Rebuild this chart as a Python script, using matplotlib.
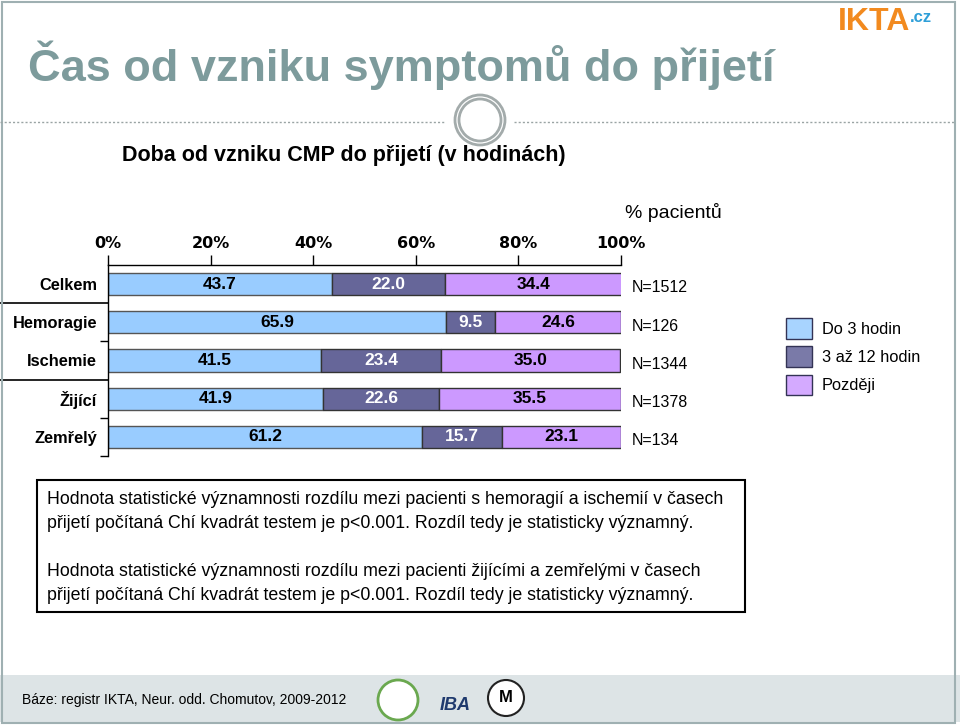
import matplotlib
matplotlib.use('Agg')
import matplotlib.pyplot as plt
from matplotlib.patches import Rectangle, Circle, Patch
from matplotlib.lines import Line2D

plt.rcParams['font.family'] = ['Liberation Sans', 'DejaVu Sans']

# data
kategorie = ['Celkem', 'Hemoragie', 'Ischemie', 'Žijící', 'Zemřelý']
do3 = [43.7, 65.9, 41.5, 41.9, 61.2]
od3do12 = [22.0, 9.5, 23.4, 22.6, 15.7]
pozdeji = [34.4, 24.6, 35.0, 35.5, 23.1]
pocty = ['N=1512', 'N=126', 'N=1344', 'N=1378', 'N=134']
serie = ['Do 3 hodin', '3 až 12 hodin', 'Později']
barvy = ['#99ccff', '#666699', '#cc99ff']
xticks = [0, 20, 40, 60, 80, 100]

W, H = 960, 726
fig = plt.figure(figsize=(W / 100, H / 100), dpi=100)

def fx(px):
    return px / W

def fy(py):
    return 1 - py / H

def kruh(px, py, r, **kw):
    # circle in pixel units, so it stays round
    fig.add_artist(Circle((px / 100, (H - py) / 100), r / 100, transform=fig.dpi_scale_trans, **kw))

# slide decoration
fig.patches.append(Rectangle((fx(0), fy(722)), 1, fy(675) - fy(722), transform=fig.transFigure,
                             facecolor='#dde4e6', edgecolor='none', zorder=0))
fig.patches.append(Rectangle((fx(2), fy(723)), fx(953), fy(2) - fy(723), transform=fig.transFigure,
                             facecolor='none', edgecolor='#9fb0b2', lw=1.5, zorder=1))
fig.add_artist(Line2D([fx(0), fx(445)], [fy(122), fy(122)], transform=fig.transFigure,
                      color='#9aa4a4', lw=1, ls=(0, (1.5, 1.5))))
fig.add_artist(Line2D([fx(514), fx(955)], [fy(122), fy(122)], transform=fig.transFigure,
                      color='#9aa4a4', lw=1, ls=(0, (1.5, 1.5))))
for r in (25, 21):
    kruh(480, 120, r, facecolor='none', edgecolor='#a3abab', lw=2)

fig.text(fx(28), fy(65), 'Čas od vzniku symptomů do přijetí', fontsize=32.5, fontweight='bold',
         color='#7d9b9c', va='center', ha='left')
fig.text(fx(122), fy(156), 'Doba od vzniku CMP do přijetí (v hodinách)', fontsize=15.5,
         fontweight='bold', va='center', ha='left')
fig.text(fx(838), fy(22), 'IKTA', fontsize=23, fontweight='bold', color='#f28a1f', va='center')
fig.text(fx(910), fy(17), '.cz', fontsize=12, fontweight='bold', color='#2f9fd8', va='center')
fig.text(fx(625), fy(212), '% pacientů', fontsize=14, va='center')

# chart
ax = fig.add_axes([fx(108), fy(456), fx(513), fy(265) - fy(456)])
y = list(range(len(kategorie)))
left2 = [a for a in do3]
left3 = [a + b for a, b in zip(do3, od3do12)]
ax.barh(y, do3, height=0.58, color=barvy[0], edgecolor='#555555', lw=1)
ax.barh(y, od3do12, left=left2, height=0.58, color=barvy[1], edgecolor='#333333', lw=1)
ax.barh(y, pozdeji, left=left3, height=0.58, color=barvy[2], edgecolor='#333333', lw=1)

for i in y:
    ax.text(do3[i] / 2, i, f'{do3[i]:.1f}', ha='center', va='center', fontsize=12.5, fontweight='bold')
    ax.text(left2[i] + od3do12[i] / 2, i, f'{od3do12[i]:.1f}', ha='center', va='center',
            fontsize=12.5, fontweight='bold', color='white')
    ax.text(left3[i] + pozdeji[i] / 2, i, f'{pozdeji[i]:.1f}', ha='center', va='center',
            fontsize=12.5, fontweight='bold')
    ax.annotate(pocty[i], (1, i + 0.1), xycoords=ax.get_yaxis_transform(), xytext=(11, 0),
                textcoords='offset pixels', va='center', ha='left', fontsize=11.5, annotation_clip=False)

ax.set_xlim(0, 100)
ax.set_ylim(4.5, -0.5)
ax.xaxis.tick_top()
ax.set_xticks(xticks)
ax.set_xticklabels([f'{t}%' for t in xticks], fontfamily='DejaVu Sans', fontweight='bold', fontsize=11.5)
ax.tick_params(axis='x', direction='out', length=7, width=1, pad=3)
ax.set_yticks(y)
ax.set_yticklabels(kategorie, fontweight='bold', fontsize=11.8)
ax.tick_params(axis='y', which='major', length=0, pad=8)
ax.set_yticks([1.5, 3.5, 4.5], minor=True)
ax.tick_params(axis='y', which='minor', length=6, width=1)
for s in ('right', 'bottom'):
    ax.spines[s].set_visible(False)
for s in ('top', 'left'):
    ax.spines[s].set_linewidth(1)
for yy in (0.5, 2.5):
    ax.plot([-108 / 513, 0], [yy, yy], transform=ax.get_yaxis_transform(), clip_on=False,
            color='black', lw=1.2)

handles = [Patch(facecolor=c, edgecolor='#333355', lw=1) for c in ['#a8d4ff', '#7a7aa8', '#d4aaff']]
fig.legend(handles, serie, loc='upper left', bbox_to_anchor=(fx(786), fy(318)), frameon=False,
           borderpad=0, borderaxespad=0, handlelength=1.6, handleheight=1.57, labelspacing=0.46,
           handletextpad=0.6, fontsize=11.8)

# text box
fig.patches.append(Rectangle((fx(37), fy(612)), fx(708), fy(480) - fy(612), transform=fig.transFigure,
                             facecolor='none', edgecolor='black', lw=1.5))
radky = [
    'Hodnota statistické významnosti rozdílu mezi pacienti s hemoragií a ischemií v časech',
    'přijetí počítaná Chí kvadrát testem je p<0.001. Rozdíl tedy je statisticky významný.',
    'Hodnota statistické významnosti rozdílu mezi pacienti žijícími a zemřelými v časech',
    'přijetí počítaná Chí kvadrát testem je p<0.001. Rozdíl tedy je statisticky významný.',
]
for txt, py in zip(radky, [500, 524, 572, 596]):
    fig.text(fx(47), fy(py), txt, fontsize=12.8, va='center', ha='left')

# footer
fig.text(fx(22), fy(700), 'Báze: registr IKTA, Neur. odd. Chomutov, 2009-2012', fontsize=10, va='center')
kruh(398, 700, 20, facecolor='white', edgecolor='#6aa84f', lw=2)
fig.text(fx(455), fy(706), 'IBA', fontsize=13, fontweight='bold', style='italic', color='#1f3a6e',
         ha='center', va='center')
kruh(506, 698, 18, facecolor='white', edgecolor='#222222', lw=1.5)
fig.text(fx(506), fy(698), 'M', fontsize=12, fontweight='bold', ha='center', va='center')

fig.savefig('out.png', dpi=100)
